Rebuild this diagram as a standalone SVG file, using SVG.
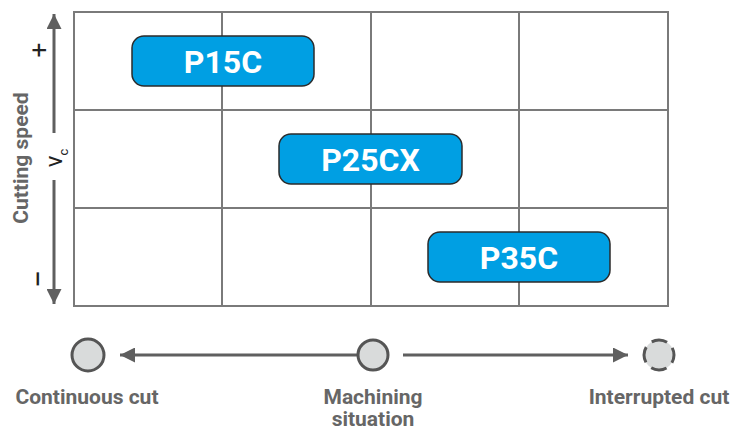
<svg xmlns="http://www.w3.org/2000/svg" width="736" height="431" viewBox="0 0 736 431">
<defs>
<marker id="ah" viewBox="0 0 10 10" refX="10" refY="5" markerWidth="5" markerHeight="5" orient="auto-start-reverse" markerUnits="strokeWidth">
<path d="M0,0 L10,5 L0,10 z" fill="#5f5f5f"/>
</marker>
<style>
.grid{fill:none;stroke:#7a7a7a;stroke-width:2}
.box{fill:#009fe3;stroke:#2b2b2b;stroke-width:1.5}
.bt{font-family:Roboto,"Liberation Sans",sans-serif;font-weight:bold;font-size:32px;fill:#fff;text-anchor:middle}
.lbl{font-family:Roboto,"Liberation Sans",sans-serif;font-weight:bold;font-size:21px;fill:#666;text-anchor:middle}
.ax{stroke:#5f5f5f;stroke-width:3;fill:none}
.circ{fill:#d9dbdb;stroke:#555;stroke-width:3}
.sym{font-family:Roboto,"Liberation Sans",sans-serif;fill:#222;text-anchor:middle}
</style>
</defs>
<g id="grid">
<rect class="grid" x="74" y="12" width="594" height="294"/>
<line class="grid" x1="222" y1="12" x2="222" y2="306"/>
<line class="grid" x1="371" y1="12" x2="371" y2="306"/>
<line class="grid" x1="519" y1="12" x2="519" y2="306"/>
<line class="grid" x1="74" y1="110" x2="668" y2="110"/>
<line class="grid" x1="74" y1="208" x2="668" y2="208"/>
</g>
<g id="P15C"><rect class="box" x="132" y="36" width="182" height="50" rx="12"/><text class="bt" x="223" y="72.5">P15C</text></g>
<g id="P25CX"><rect class="box" x="279" y="134" width="183" height="50" rx="12"/><text class="bt" x="370.5" y="170.5">P25CX</text></g>
<g id="P35C"><rect class="box" x="428" y="232" width="182" height="50" rx="12"/><text class="bt" x="519" y="268.5">P35C</text></g>
<g id="connectors">
<line class="ax" x1="54" y1="133" x2="54" y2="14" marker-end="url(#ah)"/>
<line class="ax" x1="54" y1="180" x2="54" y2="304" marker-end="url(#ah)"/>
<line class="ax" x1="358" y1="355" x2="120" y2="355" marker-end="url(#ah)"/>
<line class="ax" x1="403" y1="355" x2="628" y2="355" marker-end="url(#ah)"/>
</g>
<g id="yaxis">
<text class="lbl" transform="translate(28,158) rotate(-90)">Cutting speed</text>
<text class="sym" transform="translate(62,158) rotate(-90)" font-size="24">v<tspan font-size="13" dy="6">c</tspan></text>
<text class="sym" transform="translate(48,50) rotate(-90)" font-size="26">+</text>
<text class="sym" transform="translate(49,279) rotate(-90)" font-size="32">−</text>
</g>
<g id="continuous"><circle class="circ" cx="88" cy="355" r="16"/><text class="lbl" x="87" y="404">Continuous cut</text></g>
<g id="machining"><circle class="circ" cx="373" cy="355" r="15"/><text class="lbl" x="373" y="404">Machining</text><text class="lbl" x="373" y="426">situation</text></g>
<g id="interrupted"><circle class="circ" cx="659" cy="355" r="15" stroke="#444" stroke-dasharray="16 7.56" stroke-dashoffset="8" stroke-width="4"/><text class="lbl" x="659" y="404">Interrupted cut</text></g>
</svg>
